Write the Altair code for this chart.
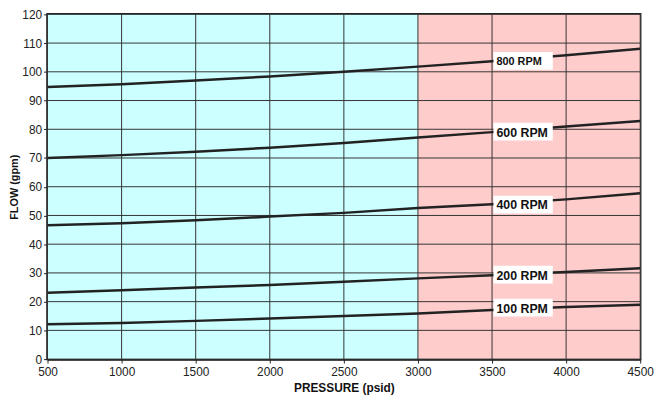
import altair as alt
import pandas as pd

pressure = [500, 1000, 1500, 2000, 2500, 3000, 3500, 4000, 4500]
rpm_labels = ["100 RPM", "200 RPM", "400 RPM", "600 RPM", "800 RPM"]
flow_100 = [12.1, 12.6, 13.3, 14.1, 15.0, 15.9, 17.1, 18.1, 18.9]
flow_200 = [23.1, 24.0, 24.9, 25.8, 26.9, 28.1, 29.2, 30.3, 31.6]
flow_400 = [46.6, 47.3, 48.3, 49.6, 50.9, 52.6, 53.9, 55.6, 57.7]
flow_600 = [70.0, 71.0, 72.2, 73.6, 75.2, 77.1, 79.0, 81.0, 82.9]
flow_800 = [94.7, 95.7, 97.0, 98.4, 100.0, 101.8, 103.7, 105.8, 108.0]

label_pressure = 3710
label_flow = [17.9, 29.4, 53.8, 79.2, 103.8]

zone_start = [500, 3000]
zone_end = [3000, 4500]
zone_color = ["#CCFFFF", "#FFCCCC"]

x_ticks = [500, 1000, 1500, 2000, 2500, 3000, 3500, 4000, 4500]
y_ticks = [0, 10, 20, 30, 40, 50, 60, 70, 80, 90, 100, 110, 120]

series = {
    "100 RPM": flow_100,
    "200 RPM": flow_200,
    "400 RPM": flow_400,
    "600 RPM": flow_600,
    "800 RPM": flow_800,
}
rows = []
for name, vals in series.items():
    for p, f in zip(pressure, vals):
        rows.append({"rpm": name, "pressure": p, "flow": f})
lines_df = pd.DataFrame(rows)

zones_df = pd.DataFrame({"start": zone_start, "end": zone_end, "color": zone_color})
labels_df = pd.DataFrame({
    "rpm": rpm_labels,
    "pressure": [label_pressure] * len(rpm_labels),
    "flow": label_flow,
})
xgrid_df = pd.DataFrame({"pressure": x_ticks})
ygrid_df = pd.DataFrame({"flow": y_ticks})

xscale = alt.Scale(domain=[500, 4500], nice=False, zero=False)
yscale = alt.Scale(domain=[0, 120], nice=False)

font = "Liberation Sans"

x_axis = alt.Axis(
    values=x_ticks, format="d", title="PRESSURE (psid)",
)
y_axis = alt.Axis(
    values=y_ticks, format="d", title="FLOW (gpm)", tickCount=13,
)

zones = alt.Chart(zones_df).mark_rect(opacity=1).encode(
    x=alt.X("start:Q", scale=xscale, axis=x_axis),
    x2="end:Q",
    color=alt.Color("color:N", scale=None, legend=None),
)

xgrid = alt.Chart(xgrid_df).mark_rule(color="#333333", strokeWidth=1).encode(
    x=alt.X("pressure:Q", scale=xscale, axis=x_axis),
)
ygrid = alt.Chart(ygrid_df).mark_rule(color="#333333", strokeWidth=1).encode(
    y=alt.Y("flow:Q", scale=yscale, axis=y_axis),
)

lines = alt.Chart(lines_df).mark_line(color="#222222", strokeWidth=2.5).encode(
    x=alt.X("pressure:Q", scale=xscale, axis=x_axis),
    y=alt.Y("flow:Q", scale=yscale, axis=y_axis),
    detail="rpm:N",
)

boxes = alt.Chart(labels_df).mark_rect(color="white", width=60, height=18).encode(
    x=alt.X("pressure:Q", scale=xscale),
    y=alt.Y("flow:Q", scale=yscale),
)

texts = alt.Chart(labels_df).mark_text(
    align="left", baseline="middle", dx=-27, dy=1,
    font=font, fontWeight="bold", color="#111111",
).encode(
    x=alt.X("pressure:Q", scale=xscale),
    y=alt.Y("flow:Q", scale=yscale),
    text="rpm:N",
    size=alt.condition(alt.datum.rpm == "800 RPM", alt.value(11), alt.value(12.5)),
)

chart = alt.layer(zones, xgrid, ygrid, lines, boxes, texts).properties(
    width=600,
    height=349,
    autosize=alt.AutoSizeParams(type="none"),
    padding={"left": 40, "top": 4, "right": 17, "bottom": 41},
).configure(
    background="white",
).configure_view(
    stroke="#222222", strokeWidth=2.5,
).configure_axis(
    grid=False, labelFlush=False, labelOverlap=False,
    domainColor="#222222", domainWidth=2.5,
    tickColor="#222222", tickSize=4, tickWidth=1,
    labelFont=font, labelFontSize=12, labelColor="#222222",
    titleFont=font, titleFontWeight="bold", titleColor="#111111",
).configure_axisX(
    labelPadding=4, titleFontSize=12, titlePadding=5,
).configure_axisY(
    labelPadding=2, titleFontSize=11, titlePadding=2,
)

chart.save("out.html", embed_options={"renderer": "svg", "actions": False})
